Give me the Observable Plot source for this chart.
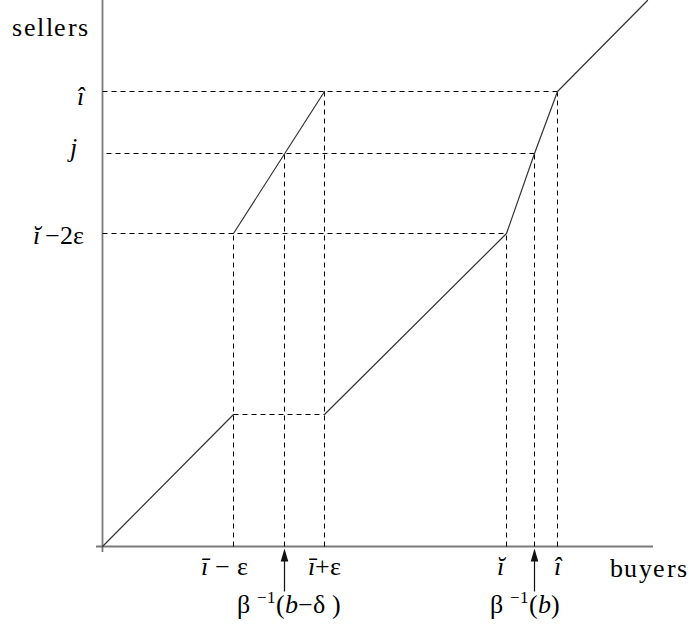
<!DOCTYPE html>
<html><head><meta charset="utf-8">
<script src="https://cdn.jsdelivr.net/npm/d3@7"></script>
<script src="https://cdn.jsdelivr.net/npm/@observablehq/plot@0.6"></script>
<style>
@font-face{font-family:"LSerif";font-style:normal;font-weight:400;src:local("Liberation Serif"),local("LiberationSerif"),local("LiberationSerif-Regular"),local("Liberation Serif Regular")}
@font-face{font-family:"LSerif";font-style:italic;font-weight:400;src:local("Liberation Serif Italic"),local("LiberationSerif-Italic")}
body{margin:0;background:#fff}
</style>
</head><body><div id="chart"></div>
<script>
// ---- data (chart units: buyers along x, sellers along y) ----
const buyerTicks = [131, 222, 404, 455];            // ī−ε, ī+ε, ĭ, î
const arrowTicks = [182, 432];                      // β⁻¹(b−δ), β⁻¹(b)
const sellerTicks = [455, 393, 313];                // î, j, ĭ−2ε
const lowerBranch = [[0, 0], [131, 132]];
const mainCurve = [[222, 132], [404, 313], [432, 393], [455, 455], [545, 546]];
const upperBranch = [[131, 313], [222, 455]];
const hGuides = [[455, 0, 455], [393, 4, 432], [313, 0, 404], [132, 131, 222]];   // [y, x1, x2]
const vGuides = [[131, 313], [182, 393], [222, 455], [404, 313], [432, 393], [455, 455]]; // [x, ytop]
const xAxisExtent = [-6, 551];
const yAxisExtent = [-6, 546];

const sellerLabels = [[{t: "î", i: 1}], [{t: "j", i: 1}], [{t: "ĭ", i: 1}, {t: "\u2009−2ε"}]];
const buyerLabels = [[{t: "ī", i: 1}, {t: " − ε"}], [{t: "ī", i: 1}, {t: "+ε"}], [{t: "ĭ", i: 1}], [{t: "î", i: 1}]];
const arrowLabels = [
  [{t: "β "}, {t: "−1", s: 1}, {t: "("}, {t: "b", i: 1}, {t: "−δ )"}],
  [{t: "β "}, {t: "−1", s: 1}, {t: "("}, {t: "b", i: 1}, {t: ")"}]
];
const axisNames = {y: "sellers", x: "buyers"};

// ---- helpers ----
const FONT = 'LSerif, "Liberation Serif", Tinos, "Times New Roman", "DejaVu Serif", serif';
const FS = 26, SUP = 17;
const ctx = document.createElement("canvas").getContext("2d");
function wd(p) { ctx.font = `${p.i ? "italic " : ""}${p.s ? SUP : FS}px ${FONT}`; return ctx.measureText(p.t).width; }
function rich(datum, parts, {x, y, anchor = "middle", dx = 0, dy = 0}) {
  const total = d3.sum(parts, wd);
  let off = dx - (anchor === "middle" ? total / 2 : anchor === "end" ? total : 0);
  return parts.map(p => {
    const m = Plot.text([datum], {
      x, y, text: () => p.t, textAnchor: "start", lineAnchor: "bottom",
      dx: off, dy: dy + (p.s ? -10 : 0), fontSize: p.s ? SUP : FS,
      fontStyle: p.i ? "italic" : "normal", fontFamily: FONT, fill: "#000"
    });
    off += wd(p);
    return m;
  });
}

const sellerDx = [-19, -26, -19], sellerDy = [13, 2, 10];
const buyerDx = [-9, 0, -6, 0];
const arrowDx = [4, -10];
const dash = {stroke: "#000", strokeWidth: 1, strokeDasharray: "5,4"};

function draw() {
  const plot = Plot.plot({
    width: 689, height: 632,
    marginLeft: 102, marginRight: 0, marginTop: 0, marginBottom: 86,
    x: {domain: [0, 587], axis: null},
    y: {domain: [0, 546], axis: null},
    style: {background: "#fff", fontFamily: FONT},
    marks: [
      Plot.ruleY([0], {x1: xAxisExtent[0], x2: xAxisExtent[1], stroke: "#7a7a7a", strokeWidth: 1.8}),
      Plot.ruleX([0], {y1: yAxisExtent[0], y2: yAxisExtent[1], stroke: "#7a7a7a", strokeWidth: 1.8}),
      Plot.link(hGuides, {x1: d => d[1], x2: d => d[2], y1: d => d[0], y2: d => d[0], ...dash}),
      Plot.link(vGuides, {x1: d => d[0], x2: d => d[0], y1: 0, y2: d => d[1], ...dash}),
      Plot.line(lowerBranch, {x: d => d[0], y: d => d[1], stroke: "#333", strokeWidth: 1.2}),
      Plot.line(mainCurve, {x: d => d[0], y: d => d[1], stroke: "#333", strokeWidth: 1.2}),
      Plot.line(upperBranch, {x: d => d[0], y: d => d[1], stroke: "#333", strokeWidth: 1.2}),
      Plot.link(arrowTicks, {x1: d => d, x2: d => d, y1: -45, y2: -12, stroke: "#111", strokeWidth: 1.2}),
      Plot.dot(arrowTicks, {x: d => d, y: -2, r: 1, fill: "#111", stroke: null,
        symbol: {draw(c) { c.moveTo(0, 0); c.lineTo(-3.8, 13); c.lineTo(3.8, 13); c.closePath(); }}}),
      ...sellerTicks.flatMap((v, k) => rich(v, sellerLabels[k], {x: 0, y: d => d, anchor: "end", dx: sellerDx[k], dy: sellerDy[k]})),
      ...buyerTicks.flatMap((v, k) => rich(v, buyerLabels[k], {x: d => d, y: 0, anchor: "middle", dx: buyerDx[k], dy: 28})),
      ...arrowTicks.flatMap((v, k) => rich(v, arrowLabels[k], {x: d => d, y: 0, anchor: "middle", dx: arrowDx[k], dy: 66})),
      Plot.text([axisNames.y], {frameAnchor: "top-left", text: d => d, textAnchor: "end", lineAnchor: "bottom", dx: -13, dy: 35, fontSize: FS, fontFamily: FONT, fill: "#000"}),
      Plot.text([axisNames.x], {frameAnchor: "bottom-right", text: d => d, textAnchor: "end", lineAnchor: "bottom", dx: -1, dy: 30, fontSize: FS, fontFamily: FONT, fill: "#000"})
    ]
  });
  d3.select(plot).selectAll("text").filter(function () { return /sellers|buyers/.test(this.textContent); }).attr("letter-spacing", 1.5);
  document.getElementById("chart").replaceChildren(plot);
}
draw();
Promise.all([document.fonts.load(`${FS}px LSerif`), document.fonts.load(`italic ${FS}px LSerif`)]).then(draw, () => {});
</script>
</body></html>
